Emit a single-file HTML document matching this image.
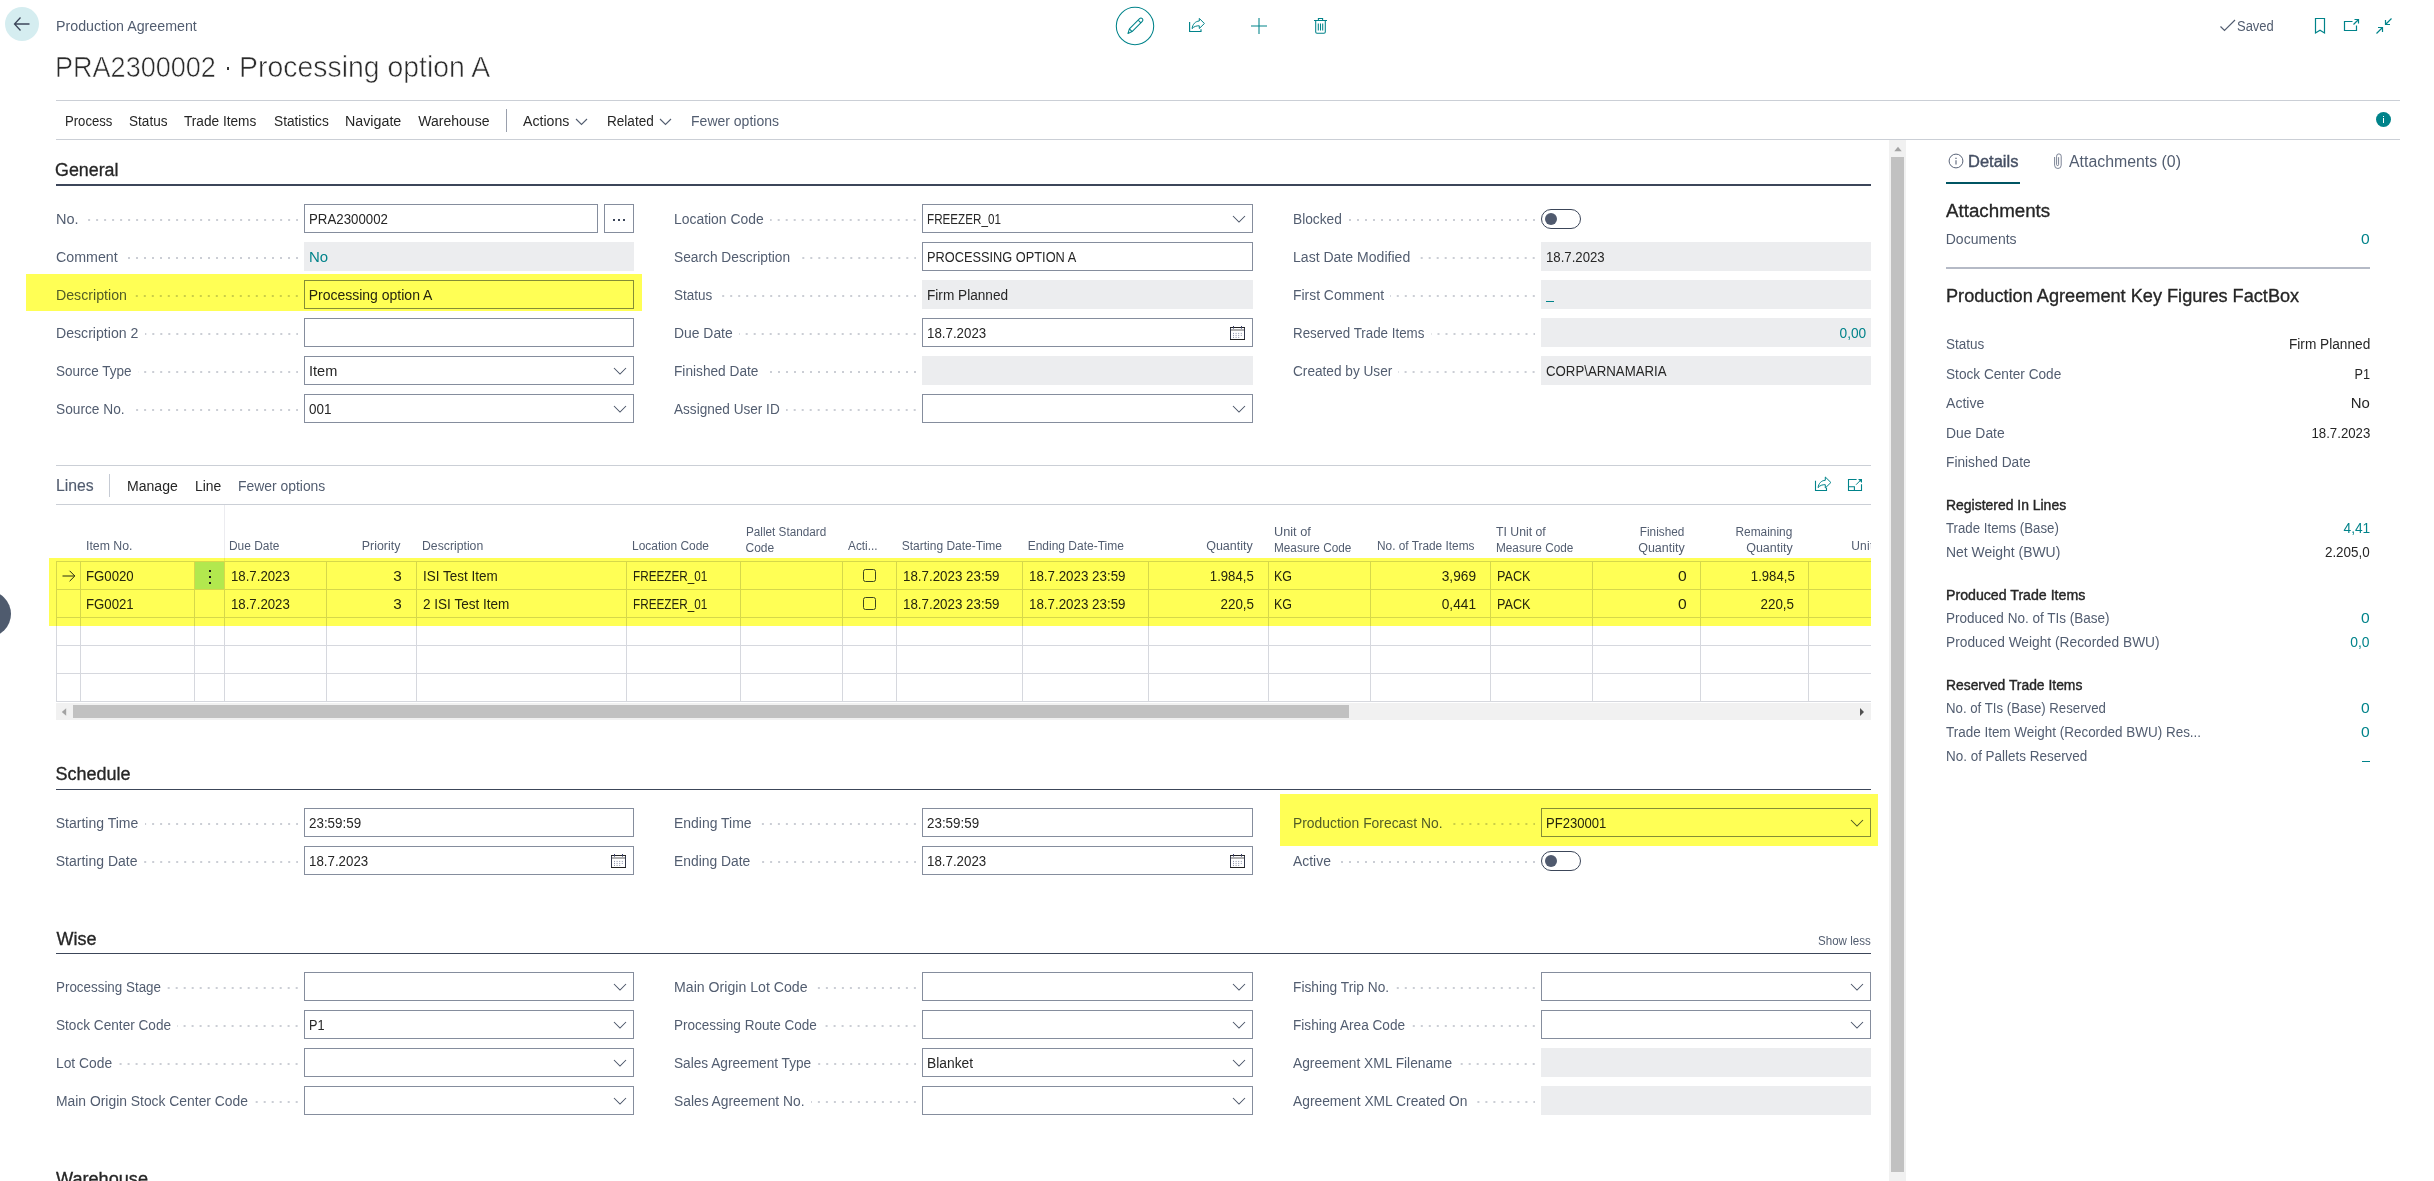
<!DOCTYPE html>
<html lang="en"><head><meta charset="utf-8"><title>PRA2300002 - Production Agreement</title>
<style>
html,body{margin:0;padding:0;background:#fff;}
body{width:2434px;height:1181px;overflow:hidden;position:relative;font-family:"Liberation Sans",sans-serif;}
#page{position:absolute;left:0;top:0;width:2434px;height:1181px;overflow:hidden;background:#fff;isolation:isolate;}
.t{position:absolute;white-space:nowrap;line-height:20px;height:20px;}
.r{position:absolute;display:block;}
.dots{height:2px;background-image:radial-gradient(circle at 7px 1px,#cbced5 0.8px,rgba(203,206,213,0) 1.15px);background-size:8px 2px;background-repeat:repeat-x;background-position:right 0 top 0;}
</style></head>
<body><div id="page">
<div class="r" style="left:5px;top:7px;width:34px;height:34px;background:#d5edf0;border-radius:50%;"></div>
<svg class="r" style="left:12px;top:14px;" width="20" height="20" viewBox="0 0 20 20" fill="none"><path d="M17.5 10H2.5 M8.5 3.5L2.5 10L8.5 16.5" stroke="#3c4659" stroke-width="1.3"/></svg>
<div class="t" style="top:16.15px;font-size:14px;color:#525d70;left:55.85px;transform-origin:0 50%;transform:scaleX(1.0164);">Production Agreement</div>
<div class="t" style="top:56.95px;font-size:29px;color:#2b2b2b;left:54.55px;transform-origin:0 50%;transform:scaleX(0.9325);-webkit-text-stroke:0.6px #fff;">PRA2300002</div>
<div class="r" style="left:226.8px;top:67.2px;width:2.4px;height:2.4px;background:#333;"></div>
<div class="t" style="top:56.95px;font-size:29px;color:#2b2b2b;left:238.65px;transform-origin:0 50%;transform:scaleX(0.9799);-webkit-text-stroke:0.6px #fff;">Processing option A</div>
<div class="r" style="left:56px;top:100px;width:2344px;height:1px;background:#cbcfd6;"></div>
<div class="r" style="left:56px;top:139px;width:2344px;height:1px;background:#cbcfd6;"></div>
<svg class="r" style="left:1115px;top:6px;" width="40" height="40" viewBox="0 0 40 40" fill="none"><circle cx="20" cy="20" r="18.7" stroke="#00838a" stroke-width="1.05"/><path d="M13 27.5l1.4-4.6L24.6 12.7a1.9 1.9 0 0 1 2.7 2.7L17.1 25.6z M14.4 22.9l2.7 2.7 M23.2 14.1l2.7 2.7" stroke="#00838a" stroke-width="1.05" stroke-linejoin="round"/></svg>
<svg class="r" style="left:1188px;top:17px;" width="18" height="16" viewBox="0 0 18 16" fill="none"><path d="M1.6 5V14.5H13V12.3" stroke="#00838a" stroke-width="1.15"/><path d="M4.1 11.6C4.6 7.2 7.4 4.2 11.3 4V1.4L16.4 6.5L11.3 11.5V8.8C8.4 8.7 6 9.5 4.1 11.6Z" stroke="#00838a" stroke-width="1" stroke-linejoin="round"/></svg>
<svg class="r" style="left:1250px;top:17px;" width="18" height="18" viewBox="0 0 18 18" fill="none"><path d="M9 1V17 M1 9H17" stroke="#00838a" stroke-width="1.05"/></svg>
<svg class="r" style="left:1312px;top:17px;" width="17" height="18" viewBox="0 0 17 18" fill="none"><path d="M2 3.5H15 M6.4 3.5V1.5H10.6V3.5 M3.7 3.5V15a1.3 1.3 0 0 0 1.3 1.3H12a1.3 1.3 0 0 0 1.3-1.3V3.5 M6.3 6.5V13.6 M8.5 6.5V13.6 M10.7 6.5V13.6" stroke="#00838a" stroke-width="1.05"/></svg>
<svg class="r" style="left:2219px;top:17px;" width="18" height="16" viewBox="0 0 18 16" fill="none"><path d="M1.5 9.5L5.5 13.5L16 3" stroke="#525d70" stroke-width="1.2"/></svg>
<div class="t" style="top:16.15px;font-size:14px;color:#525d70;left:2237.35px;transform-origin:0 50%;transform:scaleX(0.9270);">Saved</div>
<svg class="r" style="left:2314px;top:17px;" width="12" height="18" viewBox="0 0 12 18" fill="none"><path d="M1.5 1.5H10.5V16L6 13.3L1.5 16Z" stroke="#00838a" stroke-width="1.2"/></svg>
<svg class="r" style="left:2343px;top:18px;" width="17" height="14" viewBox="0 0 17 14" fill="none"><path d="M9.5 3.5H1.5V12.5H13.5V7.5" stroke="#00838a" stroke-width="1.2"/><path d="M10.5 6.5L15.5 1.5 M11.5 1.5H15.5V5.5" stroke="#00838a" stroke-width="1.2"/></svg>
<svg class="r" style="left:2375px;top:17px;" width="18" height="18" viewBox="0 0 18 18" fill="none"><path d="M16.5 1.5L10.5 7.5 M10.5 3V7.5H15 M1.5 16.5L7.5 10.5 M7.5 15V10.5H3" stroke="#00838a" stroke-width="1.2"/></svg>
<div class="r" style="left:2375.8px;top:111.8px;width:15.2px;height:15.2px;background:#00838a;border-radius:50%;"></div>
<div class="r" style="left:2382.8px;top:118.3px;width:1.4px;height:5.2px;background:#fff;"></div>
<div class="r" style="left:2382.8px;top:115.6px;width:1.4px;height:1.5px;background:#fff;"></div>
<div class="t" style="top:111.15px;font-size:14px;color:#262626;left:64.75px;transform-origin:0 50%;transform:scaleX(0.9373);">Process</div>
<div class="t" style="top:111.15px;font-size:14px;color:#262626;left:128.85px;transform-origin:0 50%;transform:scaleX(0.9700);">Status</div>
<div class="t" style="top:111.15px;font-size:14px;color:#262626;left:184.35px;transform-origin:0 50%;transform:scaleX(0.9748);">Trade Items</div>
<div class="t" style="top:111.15px;font-size:14px;color:#262626;left:273.85px;transform-origin:0 50%;transform:scaleX(0.9783);">Statistics</div>
<div class="t" style="top:111.15px;font-size:14px;color:#262626;left:345.35px;transform-origin:0 50%;transform:scaleX(1.0189);">Navigate</div>
<div class="t" style="top:111.15px;font-size:14px;color:#262626;left:418.35px;transform-origin:0 50%;">Warehouse</div>
<div class="t" style="top:111.15px;font-size:14px;color:#262626;left:523.35px;transform-origin:0 50%;transform:scaleX(1.0085);">Actions</div>
<div class="t" style="top:111.15px;font-size:14px;color:#262626;left:606.85px;transform-origin:0 50%;transform:scaleX(0.9699);">Related</div>
<div class="t" style="top:111.15px;font-size:14px;color:#525d70;left:691.05px;transform-origin:0 50%;">Fewer options</div>
<div class="r" style="left:506px;top:109px;width:1px;height:23px;background:#9aa0ad;"></div>
<svg class="r" style="left:574.7px;top:118.25px;" width="13" height="7.5" viewBox="0 0 13 7.5" fill="none"><path d="M1 1 L6.5 6.5 L12 1" stroke="#525d70" stroke-width="1.1"/></svg>
<svg class="r" style="left:658.7px;top:118.25px;" width="13" height="7.5" viewBox="0 0 13 7.5" fill="none"><path d="M1 1 L6.5 6.5 L12 1" stroke="#525d70" stroke-width="1.1"/></svg>
<div class="t" style="top:159.56px;font-size:18px;color:#262626;left:55.46px;transform-origin:0 50%;transform:scaleX(0.9912);-webkit-text-stroke:0.32px #262626;">General</div>
<div class="r" style="left:56px;top:184px;width:1815px;height:2px;background:#3c4659;"></div>
<div class="t" style="top:209.15px;font-size:14px;color:#525d70;left:55.75px;transform-origin:0 50%;transform:scaleX(1.0374);">No.</div>
<div class="r dots" style="left:84.9px;top:219px;width:213.1px;"></div>
<div class="r" style="left:304px;top:204px;width:294px;height:29px;background:#fff;border:1px solid #858d9d;box-sizing:border-box;"></div>
<div class="r" style="left:603.5px;top:204px;width:30.5px;height:29px;background:#fff;border:1px solid #858d9d;box-sizing:border-box;"></div>
<div class="r" style="left:612.5px;top:218.5px;width:2px;height:2px;background:#3c4659;"></div>
<div class="r" style="left:617.5px;top:218.5px;width:2px;height:2px;background:#3c4659;"></div>
<div class="r" style="left:622.5px;top:218.5px;width:2px;height:2px;background:#3c4659;"></div>
<div class="t" style="top:209.15px;font-size:14px;color:#262626;left:308.65px;transform-origin:0 50%;transform:scaleX(0.9473);">PRA2300002</div>
<div class="t" style="top:247.15px;font-size:14px;color:#525d70;left:55.75px;transform-origin:0 50%;transform:scaleX(1.0168);">Comment</div>
<div class="r dots" style="left:124.0px;top:257px;width:174.0px;"></div>
<div class="r" style="left:304px;top:242px;width:330px;height:29px;background:#ecedef;"></div>
<div class="t" style="top:247.15px;font-size:14px;color:#00838a;left:308.65px;transform-origin:0 50%;transform:scaleX(1.0672);">No</div>
<div class="t" style="top:285.15px;font-size:14px;color:#525d70;left:55.75px;transform-origin:0 50%;transform:scaleX(1.0125);">Description</div>
<div class="r dots" style="left:133.2px;top:295px;width:164.8px;"></div>
<div class="r" style="left:304px;top:280px;width:330px;height:29px;background:#fff;border:1px solid #858d9d;box-sizing:border-box;"></div>
<div class="t" style="top:285.15px;font-size:14px;color:#262626;left:308.65px;transform-origin:0 50%;">Processing option A</div>
<div class="t" style="top:323.15px;font-size:14px;color:#525d70;left:55.75px;transform-origin:0 50%;transform:scaleX(1.0085);">Description 2</div>
<div class="r dots" style="left:144.7px;top:333px;width:153.3px;"></div>
<div class="r" style="left:304px;top:318px;width:330px;height:29px;background:#fff;border:1px solid #858d9d;box-sizing:border-box;"></div>
<div class="t" style="top:361.15px;font-size:14px;color:#525d70;left:55.75px;transform-origin:0 50%;transform:scaleX(0.9637);">Source Type</div>
<div class="r dots" style="left:137.8px;top:371px;width:160.2px;"></div>
<div class="r" style="left:304px;top:356px;width:330px;height:29px;background:#fff;border:1px solid #858d9d;box-sizing:border-box;"></div>
<svg class="r" style="left:612.9px;top:367.3px;" width="14" height="8" viewBox="0 0 14 8" fill="none"><path d="M1 1 L7.0 7 L13 1" stroke="#4a5468" stroke-width="1.05"/></svg>
<div class="t" style="top:361.15px;font-size:14px;color:#262626;left:308.65px;transform-origin:0 50%;transform:scaleX(1.0394);">Item</div>
<div class="t" style="top:399.15px;font-size:14px;color:#525d70;left:55.75px;transform-origin:0 50%;transform:scaleX(0.9795);">Source No.</div>
<div class="r dots" style="left:130.9px;top:409px;width:167.1px;"></div>
<div class="r" style="left:304px;top:394px;width:330px;height:29px;background:#fff;border:1px solid #858d9d;box-sizing:border-box;"></div>
<svg class="r" style="left:612.9px;top:405.3px;" width="14" height="8" viewBox="0 0 14 8" fill="none"><path d="M1 1 L7.0 7 L13 1" stroke="#4a5468" stroke-width="1.05"/></svg>
<div class="t" style="top:399.15px;font-size:14px;color:#262626;left:308.65px;transform-origin:0 50%;transform:scaleX(0.9633);">001</div>
<div class="t" style="top:209.15px;font-size:14px;color:#525d70;left:674.05px;transform-origin:0 50%;transform:scaleX(0.9935);">Location Code</div>
<div class="r dots" style="left:770.3px;top:219px;width:145.7px;"></div>
<div class="r" style="left:922px;top:204px;width:331px;height:29px;background:#fff;border:1px solid #858d9d;box-sizing:border-box;"></div>
<svg class="r" style="left:1231.9px;top:215.3px;" width="14" height="8" viewBox="0 0 14 8" fill="none"><path d="M1 1 L7.0 7 L13 1" stroke="#4a5468" stroke-width="1.05"/></svg>
<div class="t" style="top:209.15px;font-size:14px;color:#262626;left:926.65px;transform-origin:0 50%;transform:scaleX(0.8332);">FREEZER_01</div>
<div class="t" style="top:247.15px;font-size:14px;color:#525d70;left:674.05px;transform-origin:0 50%;transform:scaleX(0.9816);">Search Description</div>
<div class="r dots" style="left:796.7px;top:257px;width:119.3px;"></div>
<div class="r" style="left:922px;top:242px;width:331px;height:29px;background:#fff;border:1px solid #858d9d;box-sizing:border-box;"></div>
<div class="t" style="top:247.15px;font-size:14px;color:#262626;left:926.65px;transform-origin:0 50%;transform:scaleX(0.9133);">PROCESSING OPTION A</div>
<div class="t" style="top:285.15px;font-size:14px;color:#525d70;left:674.05px;transform-origin:0 50%;transform:scaleX(0.9625);">Status</div>
<div class="r dots" style="left:718.8px;top:295px;width:197.2px;"></div>
<div class="r" style="left:922px;top:280px;width:331px;height:29px;background:#ecedef;"></div>
<div class="t" style="top:285.15px;font-size:14px;color:#262626;left:926.65px;transform-origin:0 50%;transform:scaleX(0.9741);">Firm Planned</div>
<div class="t" style="top:323.15px;font-size:14px;color:#525d70;left:674.05px;transform-origin:0 50%;transform:scaleX(0.9925);">Due Date</div>
<div class="r dots" style="left:739.3px;top:333px;width:176.7px;"></div>
<div class="r" style="left:922px;top:318px;width:331px;height:29px;background:#fff;border:1px solid #858d9d;box-sizing:border-box;"></div>
<svg class="r" style="left:1230px;top:326px;" width="15" height="15" viewBox="0 0 15 15" fill="none"><rect x="0.5" y="1.5" width="14" height="12" stroke="#33384a" stroke-width="1"/><path d="M0 1.5H15 M0 13.5H15" stroke="#222" stroke-width="1"/><path d="M1 4H14" stroke="#8e8e8e" stroke-width="1.4"/><path d="M3.5 0V2.6 M11.5 0V2.6" stroke="#3a3f66" stroke-width="1"/><path d="M3 7.4H12 M3 9.4H12 M3 11.4H9.5" stroke="#8a90a8" stroke-width="1" stroke-dasharray="1 1.6"/></svg>
<div class="t" style="top:323.15px;font-size:14px;color:#262626;left:926.65px;transform-origin:0 50%;transform:scaleX(0.9505);">18.7.2023</div>
<div class="t" style="top:361.15px;font-size:14px;color:#525d70;left:674.05px;transform-origin:0 50%;transform:scaleX(0.9771);">Finished Date</div>
<div class="r dots" style="left:765.0px;top:371px;width:151.0px;"></div>
<div class="r" style="left:922px;top:356px;width:331px;height:29px;background:#ecedef;"></div>
<div class="t" style="top:399.15px;font-size:14px;color:#525d70;left:674.05px;transform-origin:0 50%;transform:scaleX(0.9703);">Assigned User ID</div>
<div class="r dots" style="left:786.3px;top:409px;width:129.7px;"></div>
<div class="r" style="left:922px;top:394px;width:331px;height:29px;background:#fff;border:1px solid #858d9d;box-sizing:border-box;"></div>
<svg class="r" style="left:1231.9px;top:405.3px;" width="14" height="8" viewBox="0 0 14 8" fill="none"><path d="M1 1 L7.0 7 L13 1" stroke="#4a5468" stroke-width="1.05"/></svg>
<div class="t" style="top:209.15px;font-size:14px;color:#525d70;left:1292.55px;transform-origin:0 50%;transform:scaleX(0.9818);">Blocked</div>
<div class="r dots" style="left:1348.0px;top:219px;width:187.0px;"></div>
<div class="r" style="left:1541px;top:209px;width:40px;height:20px;background:#fff;border:1px solid #3c4659;border-radius:10px;box-sizing:border-box;"></div>
<div class="r" style="left:1545px;top:213px;width:12px;height:12px;background:#505a6e;border-radius:50%;"></div>
<div class="t" style="top:247.15px;font-size:14px;color:#525d70;left:1292.55px;transform-origin:0 50%;transform:scaleX(1.0040);">Last Date Modified</div>
<div class="r dots" style="left:1416.3px;top:257px;width:118.7px;"></div>
<div class="r" style="left:1541px;top:242px;width:330px;height:29px;background:#ecedef;"></div>
<div class="t" style="top:247.15px;font-size:14px;color:#262626;left:1545.65px;transform-origin:0 50%;transform:scaleX(0.9425);">18.7.2023</div>
<div class="t" style="top:285.15px;font-size:14px;color:#525d70;left:1292.55px;transform-origin:0 50%;transform:scaleX(0.9925);">First Comment</div>
<div class="r dots" style="left:1390.2px;top:295px;width:144.8px;"></div>
<div class="r" style="left:1541px;top:280px;width:330px;height:29px;background:#ecedef;"></div>
<div class="r" style="left:1545.7px;top:301px;width:8px;height:1px;background:#00838a;"></div>
<div class="t" style="top:323.15px;font-size:14px;color:#525d70;left:1292.55px;transform-origin:0 50%;transform:scaleX(0.9541);">Reserved Trade Items</div>
<div class="r dots" style="left:1430.5px;top:333px;width:104.5px;"></div>
<div class="r" style="left:1541px;top:318px;width:330px;height:29px;background:#ecedef;"></div>
<div class="t" style="top:323.15px;font-size:14px;color:#00838a;right:567.35px;text-align:right;transform-origin:100% 50%;transform:scaleX(0.9799);">0,00</div>
<div class="t" style="top:361.15px;font-size:14px;color:#525d70;left:1292.55px;transform-origin:0 50%;transform:scaleX(0.9742);">Created by User</div>
<div class="r dots" style="left:1398.4px;top:371px;width:136.6px;"></div>
<div class="r" style="left:1541px;top:356px;width:330px;height:29px;background:#ecedef;"></div>
<div class="t" style="top:361.15px;font-size:14px;color:#262626;left:1545.65px;transform-origin:0 50%;transform:scaleX(0.9453);">CORP\ARNAMARIA</div>
<div class="r" style="left:56px;top:465px;width:1815px;height:1px;background:#cbcfd6;"></div>
<div class="r" style="left:56px;top:504px;width:1815px;height:1px;background:#cbcfd6;"></div>
<div class="t" style="top:475.56px;font-size:16px;color:#525d70;left:55.66px;transform-origin:0 50%;transform:scaleX(0.9852);-webkit-text-stroke:0.15px #525d70;">Lines</div>
<div class="r" style="left:109px;top:474px;width:1px;height:23px;background:#c6cbd4;"></div>
<div class="t" style="top:476.35px;font-size:14px;color:#262626;left:126.75px;transform-origin:0 50%;transform:scaleX(1.0041);">Manage</div>
<div class="t" style="top:476.35px;font-size:14px;color:#262626;left:194.65px;transform-origin:0 50%;transform:scaleX(0.9936);">Line</div>
<div class="t" style="top:476.35px;font-size:14px;color:#525d70;left:238.35px;transform-origin:0 50%;transform:scaleX(0.9928);">Fewer options</div>
<svg class="r" style="left:1814px;top:476px;" width="18" height="16" viewBox="0 0 18 16" fill="none"><path d="M1.5 4.8V14.5H12.5V11.8" stroke="#00838a" stroke-width="1.1"/><path d="M4.1 11.6C4.6 7.4 7.3 4.5 11.3 4.3V1L16.9 6.5L11.3 12V8.7C8.3 8.6 5.9 9.4 4.1 11.6Z" stroke="#00838a" stroke-width="1" stroke-linejoin="round"/></svg>
<svg class="r" style="left:1847px;top:478px;" width="16" height="14" viewBox="0 0 16 14" fill="none"><path d="M9.6 1.5H1.5V12.5H14.5V6.3" stroke="#00838a" stroke-width="1.1"/><path d="M1.5 8.8H7.4V12.5" stroke="#00838a" stroke-width="1.1"/><path d="M9.1 6.7L14.4 1.4" stroke="#00838a" stroke-width="1"/><path d="M11 1H15V5Z" fill="#00838a"/></svg>
<div class="r" style="left:223.6px;top:505px;width:1.4px;height:56px;background:#ececf0;"></div>
<div class="r" style="left:195px;top:562px;width:29px;height:27px;background:#b2e8ea;"></div>
<div class="r" style="left:56px;top:561px;width:1px;height:141px;background:#d6d8de;"></div>
<div class="r" style="left:80px;top:561px;width:1px;height:141px;background:#d6d8de;"></div>
<div class="r" style="left:194px;top:561px;width:1px;height:141px;background:#d6d8de;"></div>
<div class="r" style="left:224px;top:561px;width:1px;height:141px;background:#d6d8de;"></div>
<div class="r" style="left:326px;top:561px;width:1px;height:141px;background:#d6d8de;"></div>
<div class="r" style="left:416px;top:561px;width:1px;height:141px;background:#d6d8de;"></div>
<div class="r" style="left:626px;top:561px;width:1px;height:141px;background:#d6d8de;"></div>
<div class="r" style="left:740px;top:561px;width:1px;height:141px;background:#d6d8de;"></div>
<div class="r" style="left:842px;top:561px;width:1px;height:141px;background:#d6d8de;"></div>
<div class="r" style="left:896px;top:561px;width:1px;height:141px;background:#d6d8de;"></div>
<div class="r" style="left:1022px;top:561px;width:1px;height:141px;background:#d6d8de;"></div>
<div class="r" style="left:1148px;top:561px;width:1px;height:141px;background:#d6d8de;"></div>
<div class="r" style="left:1268px;top:561px;width:1px;height:141px;background:#d6d8de;"></div>
<div class="r" style="left:1370px;top:561px;width:1px;height:141px;background:#d6d8de;"></div>
<div class="r" style="left:1490px;top:561px;width:1px;height:141px;background:#d6d8de;"></div>
<div class="r" style="left:1592px;top:561px;width:1px;height:141px;background:#d6d8de;"></div>
<div class="r" style="left:1700px;top:561px;width:1px;height:141px;background:#d6d8de;"></div>
<div class="r" style="left:1808px;top:561px;width:1px;height:141px;background:#d6d8de;"></div>
<div class="r" style="left:56px;top:561px;width:1815px;height:1px;background:#d6d8de;"></div>
<div class="r" style="left:56px;top:589px;width:1815px;height:1px;background:#d6d8de;"></div>
<div class="r" style="left:56px;top:617px;width:1815px;height:1px;background:#d6d8de;"></div>
<div class="r" style="left:56px;top:645px;width:1815px;height:1px;background:#d6d8de;"></div>
<div class="r" style="left:56px;top:673px;width:1815px;height:1px;background:#d6d8de;"></div>
<div class="r" style="left:56px;top:701px;width:1815px;height:1px;background:#d6d8de;"></div>
<div class="t" style="top:535.84px;font-size:12px;color:#525d70;left:85.74px;transform-origin:0 50%;transform:scaleX(1.0258);">Item No.</div>
<div class="t" style="top:535.84px;font-size:12px;color:#525d70;left:229.44px;transform-origin:0 50%;transform:scaleX(0.9945);">Due Date</div>
<div class="t" style="top:535.84px;font-size:12px;color:#525d70;right:2033.44px;text-align:right;transform-origin:100% 50%;transform:scaleX(1.0316);">Priority</div>
<div class="t" style="top:535.84px;font-size:12px;color:#525d70;left:421.64px;transform-origin:0 50%;transform:scaleX(1.0198);">Description</div>
<div class="t" style="top:535.84px;font-size:12px;color:#525d70;left:631.64px;transform-origin:0 50%;transform:scaleX(0.9951);">Location Code</div>
<div class="t" style="top:522.14px;font-size:12px;color:#525d70;left:745.54px;transform-origin:0 50%;transform:scaleX(0.9776);">Pallet Standard</div>
<div class="t" style="top:538.04px;font-size:12px;color:#525d70;left:745.54px;transform-origin:0 50%;">Code</div>
<div class="t" style="top:535.84px;font-size:12px;color:#525d70;left:847.64px;transform-origin:0 50%;transform:scaleX(0.9870);">Acti...</div>
<div class="t" style="top:535.84px;font-size:12px;color:#525d70;left:901.74px;transform-origin:0 50%;">Starting Date-Time</div>
<div class="t" style="top:535.84px;font-size:12px;color:#525d70;left:1027.64px;transform-origin:0 50%;">Ending Date-Time</div>
<div class="t" style="top:535.84px;font-size:12px;color:#525d70;right:1181.44px;text-align:right;transform-origin:100% 50%;transform:scaleX(1.0408);">Quantity</div>
<div class="t" style="top:522.14px;font-size:12px;color:#525d70;left:1273.64px;transform-origin:0 50%;transform:scaleX(1.0615);">Unit of</div>
<div class="t" style="top:538.04px;font-size:12px;color:#525d70;left:1273.64px;transform-origin:0 50%;transform:scaleX(0.9823);">Measure Code</div>
<div class="t" style="top:535.84px;font-size:12px;color:#525d70;left:1376.94px;transform-origin:0 50%;transform:scaleX(0.9869);">No. of Trade Items</div>
<div class="t" style="top:522.14px;font-size:12px;color:#525d70;left:1495.74px;transform-origin:0 50%;transform:scaleX(1.0213);">TI Unit of</div>
<div class="t" style="top:538.04px;font-size:12px;color:#525d70;left:1495.74px;transform-origin:0 50%;transform:scaleX(0.9823);">Measure Code</div>
<div class="t" style="top:522.14px;font-size:12px;color:#525d70;right:749.44px;text-align:right;transform-origin:100% 50%;transform:scaleX(0.9836);">Finished</div>
<div class="t" style="top:538.04px;font-size:12px;color:#525d70;right:749.44px;text-align:right;transform-origin:100% 50%;transform:scaleX(1.0408);">Quantity</div>
<div class="t" style="top:522.14px;font-size:12px;color:#525d70;right:641.44px;text-align:right;transform-origin:100% 50%;transform:scaleX(0.9922);">Remaining</div>
<div class="t" style="top:538.04px;font-size:12px;color:#525d70;right:641.44px;text-align:right;transform-origin:100% 50%;transform:scaleX(1.0408);">Quantity</div>
<div class="r" style="left:1851px;top:520px;width:20px;height:40px;overflow:hidden;"><div class="t" style="left:0.2px;top:15.84px;font-size:12px;color:#525d70;letter-spacing:0.25px;">Unit</div></div>
<div class="t" style="top:566.15px;font-size:14px;color:#262626;left:86.45px;transform-origin:0 50%;transform:scaleX(0.9429);">FG0020</div>
<div class="t" style="top:566.15px;font-size:14px;color:#262626;left:231.15px;transform-origin:0 50%;transform:scaleX(0.9441);">18.7.2023</div>
<div class="t" style="top:566.15px;font-size:14px;color:#262626;right:2032.15px;text-align:right;transform-origin:100% 50%;transform:scaleX(1.0917);">3</div>
<div class="t" style="top:566.15px;font-size:14px;color:#262626;left:422.75px;transform-origin:0 50%;transform:scaleX(0.9620);">ISI Test Item</div>
<div class="t" style="top:566.15px;font-size:14px;color:#262626;left:632.75px;transform-origin:0 50%;transform:scaleX(0.8377);">FREEZER_01</div>
<div class="r" style="left:863px;top:569px;width:13px;height:13px;background:#fff;border:1px solid #3c4659;border-radius:2.5px;box-sizing:border-box;"></div>
<div class="t" style="top:566.15px;font-size:14px;color:#262626;left:903.05px;transform-origin:0 50%;transform:scaleX(0.9535);">18.7.2023 23:59</div>
<div class="t" style="top:566.15px;font-size:14px;color:#262626;left:1029.05px;transform-origin:0 50%;transform:scaleX(0.9535);">18.7.2023 23:59</div>
<div class="t" style="top:566.15px;font-size:14px;color:#262626;right:1179.95px;text-align:right;transform-origin:100% 50%;transform:scaleX(0.9398);">1.984,5</div>
<div class="t" style="top:566.15px;font-size:14px;color:#262626;left:1274.45px;transform-origin:0 50%;transform:scaleX(0.8899);">KG</div>
<div class="t" style="top:566.15px;font-size:14px;color:#262626;right:957.55px;text-align:right;transform-origin:100% 50%;transform:scaleX(0.9790);">3,969</div>
<div class="t" style="top:566.15px;font-size:14px;color:#262626;left:1496.75px;transform-origin:0 50%;transform:scaleX(0.9033);">PACK</div>
<div class="t" style="top:566.15px;font-size:14px;color:#262626;right:747.25px;text-align:right;transform-origin:100% 50%;transform:scaleX(1.1174);">0</div>
<div class="t" style="top:566.15px;font-size:14px;color:#262626;right:639.75px;text-align:right;transform-origin:100% 50%;transform:scaleX(0.9398);">1.984,5</div>
<div class="t" style="top:594.15px;font-size:14px;color:#262626;left:86.45px;transform-origin:0 50%;transform:scaleX(0.9429);">FG0021</div>
<div class="t" style="top:594.15px;font-size:14px;color:#262626;left:231.15px;transform-origin:0 50%;transform:scaleX(0.9441);">18.7.2023</div>
<div class="t" style="top:594.15px;font-size:14px;color:#262626;right:2032.15px;text-align:right;transform-origin:100% 50%;transform:scaleX(1.0917);">3</div>
<div class="t" style="top:594.15px;font-size:14px;color:#262626;left:422.75px;transform-origin:0 50%;transform:scaleX(0.9684);">2 ISI Test Item</div>
<div class="t" style="top:594.15px;font-size:14px;color:#262626;left:632.75px;transform-origin:0 50%;transform:scaleX(0.8377);">FREEZER_01</div>
<div class="r" style="left:863px;top:597px;width:13px;height:13px;background:#fff;border:1px solid #3c4659;border-radius:2.5px;box-sizing:border-box;"></div>
<div class="t" style="top:594.15px;font-size:14px;color:#262626;left:903.05px;transform-origin:0 50%;transform:scaleX(0.9535);">18.7.2023 23:59</div>
<div class="t" style="top:594.15px;font-size:14px;color:#262626;left:1029.05px;transform-origin:0 50%;transform:scaleX(0.9535);">18.7.2023 23:59</div>
<div class="t" style="top:594.15px;font-size:14px;color:#262626;right:1179.95px;text-align:right;transform-origin:100% 50%;transform:scaleX(0.9562);">220,5</div>
<div class="t" style="top:594.15px;font-size:14px;color:#262626;left:1274.45px;transform-origin:0 50%;transform:scaleX(0.8899);">KG</div>
<div class="t" style="top:594.15px;font-size:14px;color:#262626;right:957.55px;text-align:right;transform-origin:100% 50%;transform:scaleX(0.9790);">0,441</div>
<div class="t" style="top:594.15px;font-size:14px;color:#262626;left:1496.75px;transform-origin:0 50%;transform:scaleX(0.9033);">PACK</div>
<div class="t" style="top:594.15px;font-size:14px;color:#262626;right:747.25px;text-align:right;transform-origin:100% 50%;transform:scaleX(1.1174);">0</div>
<div class="t" style="top:594.15px;font-size:14px;color:#262626;right:639.75px;text-align:right;transform-origin:100% 50%;transform:scaleX(0.9562);">220,5</div>
<svg class="r" style="left:61px;top:569px;" width="16" height="14" viewBox="0 0 16 14" fill="none"><path d="M1.5 7H13.8 M8.6 1.8L13.8 7L8.6 12.2" stroke="#262b36" stroke-width="1"/></svg>
<div class="r" style="left:208.6px;top:570px;width:2px;height:2px;background:#1f2440;"></div>
<div class="r" style="left:208.6px;top:576px;width:2px;height:2px;background:#1f2440;"></div>
<div class="r" style="left:208.6px;top:582px;width:2px;height:2px;background:#1f2440;"></div>
<div class="r" style="left:56px;top:703px;width:1815px;height:17px;background:#f1f1f1;"></div>
<div class="r" style="left:73px;top:705px;width:1276px;height:13px;background:#c1c1c1;"></div>
<svg class="r" style="left:60px;top:706.5px;" width="8" height="10" viewBox="0 0 8 10" fill="none"><path d="M6.2 1.3L1.8 5L6.2 8.7Z" fill="#a3a3a3"/></svg>
<svg class="r" style="left:1858px;top:706.5px;" width="8" height="10" viewBox="0 0 8 10" fill="none"><path d="M2 1L6 5L2 9Z" fill="#505050"/></svg>
<div class="r" style="left:-35.2px;top:590.8px;width:46.2px;height:46.2px;background:#4f5b6e;border-radius:50%;"></div>
<div class="t" style="top:764.26px;font-size:18px;color:#262626;left:55.56px;transform-origin:0 50%;-webkit-text-stroke:0.32px #262626;">Schedule</div>
<div class="r" style="left:56px;top:789px;width:1815px;height:1px;background:#3c4659;"></div>
<div class="t" style="top:813.15px;font-size:14px;color:#525d70;left:55.75px;transform-origin:0 50%;">Starting Time</div>
<div class="r dots" style="left:144.9px;top:823px;width:153.1px;"></div>
<div class="r" style="left:304px;top:808px;width:330px;height:29px;background:#fff;border:1px solid #858d9d;box-sizing:border-box;"></div>
<div class="t" style="top:813.15px;font-size:14px;color:#262626;left:308.65px;transform-origin:0 50%;transform:scaleX(0.9560);">23:59:59</div>
<div class="t" style="top:851.15px;font-size:14px;color:#525d70;left:55.75px;transform-origin:0 50%;">Starting Date</div>
<div class="r dots" style="left:143.8px;top:861px;width:154.2px;"></div>
<div class="r" style="left:304px;top:846px;width:330px;height:29px;background:#fff;border:1px solid #858d9d;box-sizing:border-box;"></div>
<svg class="r" style="left:611px;top:854px;" width="15" height="15" viewBox="0 0 15 15" fill="none"><rect x="0.5" y="1.5" width="14" height="12" stroke="#33384a" stroke-width="1"/><path d="M0 1.5H15 M0 13.5H15" stroke="#222" stroke-width="1"/><path d="M1 4H14" stroke="#8e8e8e" stroke-width="1.4"/><path d="M3.5 0V2.6 M11.5 0V2.6" stroke="#3a3f66" stroke-width="1"/><path d="M3 7.4H12 M3 9.4H12 M3 11.4H9.5" stroke="#8a90a8" stroke-width="1" stroke-dasharray="1 1.6"/></svg>
<div class="t" style="top:851.15px;font-size:14px;color:#262626;left:308.65px;transform-origin:0 50%;transform:scaleX(0.9505);">18.7.2023</div>
<div class="t" style="top:813.15px;font-size:14px;color:#525d70;left:674.05px;transform-origin:0 50%;transform:scaleX(0.9959);">Ending Time</div>
<div class="r dots" style="left:758.1px;top:823px;width:157.9px;"></div>
<div class="r" style="left:922px;top:808px;width:331px;height:29px;background:#fff;border:1px solid #858d9d;box-sizing:border-box;"></div>
<div class="t" style="top:813.15px;font-size:14px;color:#262626;left:926.65px;transform-origin:0 50%;transform:scaleX(0.9560);">23:59:59</div>
<div class="t" style="top:851.15px;font-size:14px;color:#525d70;left:674.05px;transform-origin:0 50%;transform:scaleX(0.9902);">Ending Date</div>
<div class="r dots" style="left:756.9px;top:861px;width:159.1px;"></div>
<div class="r" style="left:922px;top:846px;width:331px;height:29px;background:#fff;border:1px solid #858d9d;box-sizing:border-box;"></div>
<svg class="r" style="left:1230px;top:854px;" width="15" height="15" viewBox="0 0 15 15" fill="none"><rect x="0.5" y="1.5" width="14" height="12" stroke="#33384a" stroke-width="1"/><path d="M0 1.5H15 M0 13.5H15" stroke="#222" stroke-width="1"/><path d="M1 4H14" stroke="#8e8e8e" stroke-width="1.4"/><path d="M3.5 0V2.6 M11.5 0V2.6" stroke="#3a3f66" stroke-width="1"/><path d="M3 7.4H12 M3 9.4H12 M3 11.4H9.5" stroke="#8a90a8" stroke-width="1" stroke-dasharray="1 1.6"/></svg>
<div class="t" style="top:851.15px;font-size:14px;color:#262626;left:926.65px;transform-origin:0 50%;transform:scaleX(0.9505);">18.7.2023</div>
<div class="t" style="top:813.15px;font-size:14px;color:#525d70;left:1292.55px;transform-origin:0 50%;transform:scaleX(0.9903);">Production Forecast No.</div>
<div class="r dots" style="left:1448.6px;top:823px;width:86.4px;"></div>
<div class="r" style="left:1541px;top:808px;width:330px;height:29px;background:#fff;border:1px solid #858d9d;box-sizing:border-box;"></div>
<svg class="r" style="left:1849.9px;top:819.3px;" width="14" height="8" viewBox="0 0 14 8" fill="none"><path d="M1 1 L7.0 7 L13 1" stroke="#4a5468" stroke-width="1.05"/></svg>
<div class="t" style="top:813.15px;font-size:14px;color:#262626;left:1545.65px;transform-origin:0 50%;transform:scaleX(0.9333);">PF230001</div>
<div class="t" style="top:851.15px;font-size:14px;color:#525d70;left:1292.55px;transform-origin:0 50%;transform:scaleX(0.9941);">Active</div>
<div class="r dots" style="left:1337.0px;top:861px;width:198.0px;"></div>
<div class="r" style="left:1541px;top:851px;width:40px;height:20px;background:#fff;border:1px solid #3c4659;border-radius:10px;box-sizing:border-box;"></div>
<div class="r" style="left:1545px;top:855px;width:12px;height:12px;background:#505a6e;border-radius:50%;"></div>
<div class="t" style="top:928.56px;font-size:18px;color:#262626;left:56.46px;transform-origin:0 50%;-webkit-text-stroke:0.32px #262626;">Wise</div>
<div class="t" style="top:930.64px;font-size:12px;color:#525d70;right:563.04px;text-align:right;transform-origin:100% 50%;transform:scaleX(0.9620);">Show less</div>
<div class="r" style="left:56px;top:953px;width:1815px;height:1px;background:#3c4659;"></div>
<div class="t" style="top:977.15px;font-size:14px;color:#525d70;left:55.75px;transform-origin:0 50%;transform:scaleX(0.9569);">Processing Stage</div>
<div class="r dots" style="left:167.3px;top:987px;width:130.7px;"></div>
<div class="r" style="left:304px;top:972px;width:330px;height:29px;background:#fff;border:1px solid #858d9d;box-sizing:border-box;"></div>
<svg class="r" style="left:612.9px;top:983.3px;" width="14" height="8" viewBox="0 0 14 8" fill="none"><path d="M1 1 L7.0 7 L13 1" stroke="#4a5468" stroke-width="1.05"/></svg>
<div class="t" style="top:1015.15px;font-size:14px;color:#525d70;left:55.75px;transform-origin:0 50%;transform:scaleX(0.9731);">Stock Center Code</div>
<div class="r dots" style="left:177.4px;top:1025px;width:120.6px;"></div>
<div class="r" style="left:304px;top:1010px;width:330px;height:29px;background:#fff;border:1px solid #858d9d;box-sizing:border-box;"></div>
<svg class="r" style="left:612.9px;top:1021.3px;" width="14" height="8" viewBox="0 0 14 8" fill="none"><path d="M1 1 L7.0 7 L13 1" stroke="#4a5468" stroke-width="1.05"/></svg>
<div class="t" style="top:1015.15px;font-size:14px;color:#262626;left:308.65px;transform-origin:0 50%;transform:scaleX(0.9052);">P1</div>
<div class="t" style="top:1053.15px;font-size:14px;color:#525d70;left:55.75px;transform-origin:0 50%;transform:scaleX(0.9873);">Lot Code</div>
<div class="r dots" style="left:118.4px;top:1063px;width:179.6px;"></div>
<div class="r" style="left:304px;top:1048px;width:330px;height:29px;background:#fff;border:1px solid #858d9d;box-sizing:border-box;"></div>
<svg class="r" style="left:612.9px;top:1059.3px;" width="14" height="8" viewBox="0 0 14 8" fill="none"><path d="M1 1 L7.0 7 L13 1" stroke="#4a5468" stroke-width="1.05"/></svg>
<div class="t" style="top:1091.15px;font-size:14px;color:#525d70;left:55.75px;transform-origin:0 50%;transform:scaleX(0.9910);">Main Origin Stock Center Code</div>
<div class="r dots" style="left:254.3px;top:1101px;width:43.7px;"></div>
<div class="r" style="left:304px;top:1086px;width:330px;height:29px;background:#fff;border:1px solid #858d9d;box-sizing:border-box;"></div>
<svg class="r" style="left:612.9px;top:1097.3px;" width="14" height="8" viewBox="0 0 14 8" fill="none"><path d="M1 1 L7.0 7 L13 1" stroke="#4a5468" stroke-width="1.05"/></svg>
<div class="t" style="top:977.15px;font-size:14px;color:#525d70;left:674.05px;transform-origin:0 50%;transform:scaleX(1.0092);">Main Origin Lot Code</div>
<div class="r dots" style="left:814.1px;top:987px;width:101.9px;"></div>
<div class="r" style="left:922px;top:972px;width:331px;height:29px;background:#fff;border:1px solid #858d9d;box-sizing:border-box;"></div>
<svg class="r" style="left:1231.9px;top:983.3px;" width="14" height="8" viewBox="0 0 14 8" fill="none"><path d="M1 1 L7.0 7 L13 1" stroke="#4a5468" stroke-width="1.05"/></svg>
<div class="t" style="top:1015.15px;font-size:14px;color:#525d70;left:674.05px;transform-origin:0 50%;transform:scaleX(0.9658);">Processing Route Code</div>
<div class="r dots" style="left:823.4px;top:1025px;width:92.6px;"></div>
<div class="r" style="left:922px;top:1010px;width:331px;height:29px;background:#fff;border:1px solid #858d9d;box-sizing:border-box;"></div>
<svg class="r" style="left:1231.9px;top:1021.3px;" width="14" height="8" viewBox="0 0 14 8" fill="none"><path d="M1 1 L7.0 7 L13 1" stroke="#4a5468" stroke-width="1.05"/></svg>
<div class="t" style="top:1053.15px;font-size:14px;color:#525d70;left:674.05px;transform-origin:0 50%;transform:scaleX(0.9758);">Sales Agreement Type</div>
<div class="r dots" style="left:817.8px;top:1063px;width:98.2px;"></div>
<div class="r" style="left:922px;top:1048px;width:331px;height:29px;background:#fff;border:1px solid #858d9d;box-sizing:border-box;"></div>
<svg class="r" style="left:1231.9px;top:1059.3px;" width="14" height="8" viewBox="0 0 14 8" fill="none"><path d="M1 1 L7.0 7 L13 1" stroke="#4a5468" stroke-width="1.05"/></svg>
<div class="t" style="top:1053.15px;font-size:14px;color:#262626;left:926.65px;transform-origin:0 50%;transform:scaleX(0.9872);">Blanket</div>
<div class="t" style="top:1091.15px;font-size:14px;color:#525d70;left:674.05px;transform-origin:0 50%;transform:scaleX(0.9864);">Sales Agreement No.</div>
<div class="r dots" style="left:811.1px;top:1101px;width:104.9px;"></div>
<div class="r" style="left:922px;top:1086px;width:331px;height:29px;background:#fff;border:1px solid #858d9d;box-sizing:border-box;"></div>
<svg class="r" style="left:1231.9px;top:1097.3px;" width="14" height="8" viewBox="0 0 14 8" fill="none"><path d="M1 1 L7.0 7 L13 1" stroke="#4a5468" stroke-width="1.05"/></svg>
<div class="t" style="top:977.15px;font-size:14px;color:#525d70;left:1292.55px;transform-origin:0 50%;transform:scaleX(0.9803);">Fishing Trip No.</div>
<div class="r dots" style="left:1395.2px;top:987px;width:139.8px;"></div>
<div class="r" style="left:1541px;top:972px;width:330px;height:29px;background:#fff;border:1px solid #858d9d;box-sizing:border-box;"></div>
<svg class="r" style="left:1849.9px;top:983.3px;" width="14" height="8" viewBox="0 0 14 8" fill="none"><path d="M1 1 L7.0 7 L13 1" stroke="#4a5468" stroke-width="1.05"/></svg>
<div class="t" style="top:1015.15px;font-size:14px;color:#525d70;left:1292.55px;transform-origin:0 50%;transform:scaleX(0.9733);">Fishing Area Code</div>
<div class="r dots" style="left:1411.2px;top:1025px;width:123.8px;"></div>
<div class="r" style="left:1541px;top:1010px;width:330px;height:29px;background:#fff;border:1px solid #858d9d;box-sizing:border-box;"></div>
<svg class="r" style="left:1849.9px;top:1021.3px;" width="14" height="8" viewBox="0 0 14 8" fill="none"><path d="M1 1 L7.0 7 L13 1" stroke="#4a5468" stroke-width="1.05"/></svg>
<div class="t" style="top:1053.15px;font-size:14px;color:#525d70;left:1292.55px;transform-origin:0 50%;transform:scaleX(0.9821);">Agreement XML Filename</div>
<div class="r dots" style="left:1458.3px;top:1063px;width:76.7px;"></div>
<div class="r" style="left:1541px;top:1048px;width:330px;height:29px;background:#ecedef;"></div>
<div class="t" style="top:1091.15px;font-size:14px;color:#525d70;left:1292.55px;transform-origin:0 50%;transform:scaleX(0.9864);">Agreement XML Created On</div>
<div class="r dots" style="left:1473.6px;top:1101px;width:61.4px;"></div>
<div class="r" style="left:1541px;top:1086px;width:330px;height:29px;background:#ecedef;"></div>
<div class="t" style="top:1169.26px;font-size:18px;color:#262626;left:55.56px;transform-origin:0 50%;transform:scaleX(1.0065);-webkit-text-stroke:0.32px #262626;">Warehouse</div>
<div class="r" style="left:1889px;top:140px;width:17px;height:1041px;background:#f1f1f1;"></div>
<div class="r" style="left:1891px;top:157px;width:13px;height:1015px;background:#c1c1c1;"></div>
<svg class="r" style="left:1892.5px;top:145px;" width="10" height="8" viewBox="0 0 10 8" fill="none"><path d="M1.3 6.2L5 1.8L8.7 6.2Z" fill="#a3a3a3"/></svg>
<svg class="r" style="left:1947.5px;top:152.5px;" width="16" height="16" viewBox="0 0 16 16" fill="none"><circle cx="8" cy="8" r="6.9" stroke="#5a6478" stroke-width="1"/><path d="M8 7.3V11.6" stroke="#5a6478" stroke-width="1.1"/><rect x="7.4" y="4.7" width="1.2" height="1.3" fill="#5a6478"/></svg>
<div class="t" style="top:151.86px;font-size:16px;color:#454f63;left:1967.86px;transform-origin:0 50%;transform:scaleX(1.0303);-webkit-text-stroke:0.4px #454f63;">Details</div>
<div class="r" style="left:1946px;top:182px;width:74px;height:2px;background:#005563;"></div>
<svg class="r" style="left:2053px;top:152px;" width="10" height="18" viewBox="0 0 10 18" fill="none"><path d="M1.6 5V13.2a3.3 3.3 0 0 0 6.6 0V4.2a2.3 2.3 0 0 0-4.6 0V12.6a1 1 0 0 0 2 0V5.2" stroke="#6b7488" stroke-width="0.9"/></svg>
<div class="t" style="top:151.86px;font-size:16px;color:#525d70;left:2069.06px;transform-origin:0 50%;transform:scaleX(0.9916);">Attachments (0)</div>
<div class="t" style="top:200.56px;font-size:18px;color:#262626;left:1945.56px;transform-origin:0 50%;transform:scaleX(1.0412);-webkit-text-stroke:0.32px #262626;">Attachments</div>
<div class="t" style="top:229.25px;font-size:14px;color:#525d70;left:1945.75px;transform-origin:0 50%;">Documents</div>
<div class="t" style="top:229.25px;font-size:14px;color:#00838a;right:64.15px;text-align:right;transform-origin:100% 50%;transform:scaleX(1.1174);">0</div>
<div class="r" style="left:1946px;top:267px;width:424px;height:2px;background:#b5bac6;"></div>
<div class="t" style="top:285.66px;font-size:18px;color:#262626;left:1945.56px;transform-origin:0 50%;transform:scaleX(1.0086);-webkit-text-stroke:0.32px #262626;">Production Agreement Key Figures FactBox</div>
<div class="t" style="top:334.45px;font-size:14px;color:#525d70;left:1945.75px;transform-origin:0 50%;transform:scaleX(0.9650);">Status</div>
<div class="t" style="top:334.45px;font-size:14px;color:#262626;right:64.15px;text-align:right;transform-origin:100% 50%;transform:scaleX(0.9765);">Firm Planned</div>
<div class="t" style="top:364.25px;font-size:14px;color:#525d70;left:1945.75px;transform-origin:0 50%;transform:scaleX(0.9748);">Stock Center Code</div>
<div class="t" style="top:364.25px;font-size:14px;color:#262626;right:64.15px;text-align:right;transform-origin:100% 50%;transform:scaleX(0.9052);">P1</div>
<div class="t" style="top:393.45px;font-size:14px;color:#525d70;left:1945.75px;transform-origin:0 50%;transform:scaleX(1.0046);">Active</div>
<div class="t" style="top:393.45px;font-size:14px;color:#262626;right:64.15px;text-align:right;transform-origin:100% 50%;transform:scaleX(1.0672);">No</div>
<div class="t" style="top:422.65px;font-size:14px;color:#525d70;left:1945.75px;transform-origin:0 50%;transform:scaleX(0.9925);">Due Date</div>
<div class="t" style="top:422.65px;font-size:14px;color:#262626;right:64.15px;text-align:right;transform-origin:100% 50%;transform:scaleX(0.9441);">18.7.2023</div>
<div class="t" style="top:452.35px;font-size:14px;color:#525d70;left:1945.75px;transform-origin:0 50%;transform:scaleX(0.9794);">Finished Date</div>
<div class="t" style="top:495.15px;font-size:14px;color:#262626;left:1945.75px;transform-origin:0 50%;transform:scaleX(0.9956);-webkit-text-stroke:0.4px #262626;">Registered In Lines</div>
<div class="t" style="top:518.35px;font-size:14px;color:#525d70;left:1945.75px;transform-origin:0 50%;transform:scaleX(0.9456);">Trade Items (Base)</div>
<div class="t" style="top:518.35px;font-size:14px;color:#00838a;right:64.15px;text-align:right;transform-origin:100% 50%;transform:scaleX(0.9799);">4,41</div>
<div class="t" style="top:542.25px;font-size:14px;color:#525d70;left:1945.75px;transform-origin:0 50%;transform:scaleX(0.9950);">Net Weight (BWU)</div>
<div class="t" style="top:542.25px;font-size:14px;color:#262626;right:64.15px;text-align:right;transform-origin:100% 50%;transform:scaleX(0.9591);">2.205,0</div>
<div class="t" style="top:584.95px;font-size:14px;color:#262626;left:1945.75px;transform-origin:0 50%;transform:scaleX(1.0113);-webkit-text-stroke:0.4px #262626;">Produced Trade Items</div>
<div class="t" style="top:608.35px;font-size:14px;color:#525d70;left:1945.75px;transform-origin:0 50%;transform:scaleX(0.9659);">Produced No. of TIs (Base)</div>
<div class="t" style="top:608.35px;font-size:14px;color:#00838a;right:64.15px;text-align:right;transform-origin:100% 50%;transform:scaleX(1.1174);">0</div>
<div class="t" style="top:632.35px;font-size:14px;color:#525d70;left:1945.75px;transform-origin:0 50%;transform:scaleX(0.9816);">Produced Weight (Recorded BWU)</div>
<div class="t" style="top:632.35px;font-size:14px;color:#00838a;right:64.15px;text-align:right;transform-origin:100% 50%;transform:scaleX(0.9917);">0,0</div>
<div class="t" style="top:675.05px;font-size:14px;color:#262626;left:1945.75px;transform-origin:0 50%;transform:scaleX(0.9897);-webkit-text-stroke:0.4px #262626;">Reserved Trade Items</div>
<div class="t" style="top:698.25px;font-size:14px;color:#525d70;left:1945.75px;transform-origin:0 50%;transform:scaleX(0.9441);">No. of TIs (Base) Reserved</div>
<div class="t" style="top:698.25px;font-size:14px;color:#00838a;right:64.15px;text-align:right;transform-origin:100% 50%;transform:scaleX(1.1174);">0</div>
<div class="t" style="top:722.45px;font-size:14px;color:#525d70;left:1945.75px;transform-origin:0 50%;transform:scaleX(0.9615);">Trade Item Weight (Recorded BWU) Res...</div>
<div class="t" style="top:722.45px;font-size:14px;color:#00838a;right:64.15px;text-align:right;transform-origin:100% 50%;transform:scaleX(1.1174);">0</div>
<div class="t" style="top:745.65px;font-size:14px;color:#525d70;left:1945.75px;transform-origin:0 50%;transform:scaleX(0.9608);">No. of Pallets Reserved</div>
<div class="r" style="left:2362.2px;top:761px;width:7.6px;height:1px;background:#00838a;"></div>
<div class="r" style="left:26px;top:274px;width:616px;height:37px;background:#ffff55;mix-blend-mode:multiply;"></div>
<div class="r" style="left:49px;top:558px;width:1821.8px;height:68px;background:#ffff55;mix-blend-mode:multiply;"></div>
<div class="r" style="left:1280px;top:794px;width:598px;height:52px;background:#ffff55;mix-blend-mode:multiply;"></div>
</div></body></html>
